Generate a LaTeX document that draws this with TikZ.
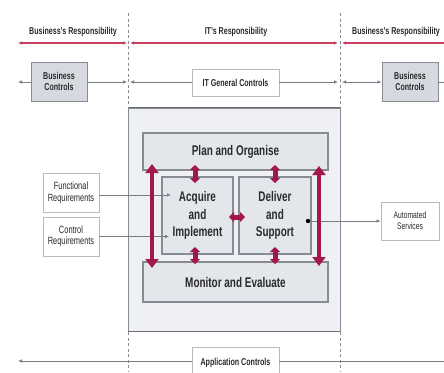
\documentclass[tikz,border=0pt]{standalone}
\usepackage{fontspec}
\setmainfont{Liberation Sans}[FakeStretch=0.71]
\usetikzlibrary{arrows.meta}
\definecolor{crim}{HTML}{A3174C}
\definecolor{redline}{HTML}{C8405E}
\definecolor{bcfill}{HTML}{D6DAE0}
\definecolor{bigfill}{HTML}{EEF0F3}
\definecolor{innerfill}{HTML}{E3E6EB}
\definecolor{txt}{HTML}{2A2A2A}
\definecolor{edge}{HTML}{878C94}
\tikzset{
  base/.style={draw=edge, text=txt, align=center, inner sep=1pt},
  bcbox/.style={base, fill=bcfill, line width=0.9pt, minimum width=56pt, minimum height=39pt, font=\fontsize{10}{11}\selectfont\bfseries},
  wbox/.style={base, fill=white, draw=edge!60, line width=0.8pt, font=\fontsize{10.5}{11.5}\selectfont},
  resp/.style={text=txt, font=\fontsize{10}{11}\selectfont\bfseries},
  bigbox/.style={fill=bigfill, draw=edge, line width=0.8pt, minimum width=212pt, minimum height=223pt, inner sep=0pt},
  inner/.style={base, fill=innerfill, line width=1.3pt, font=\fontsize{14}{17.5}\selectfont\bfseries},
  conn/.style={draw=edge!90!black, line width=0.7pt},
  tip/.style={-{Latex[length=4pt,width=3.5pt]}},
  redl/.style={draw=redline, line width=1.2pt},
  dashv/.style={draw=edge, line width=0.6pt, dash pattern=on 3pt off 2.5pt},
  bigred/.style={draw=crim, line width=4.5pt, {Triangle[width=13pt,length=9pt]}-{Triangle[width=13pt,length=9pt]}},
  smallred/.style={draw=crim, line width=5pt, {Triangle[width=10pt,length=5pt]}-{Triangle[width=10pt,length=5pt]}},
}
\begin{document}
\begin{tikzpicture}[x=1pt,y=-1pt]
\clip (0,0) rectangle (444,372);
\fill[white] (0,0) rectangle (444,372);

% big box
\node[bigbox] (big) at (234,219.5) {};
\draw[draw=edge!80!black, line width=1.4pt] (big.north west) -- (big.north east);
\draw[draw=edge!80!black, line width=1.4pt] (big.south west) -- (big.south east);

% dashed boundaries
\coordinate (dA1) at (128,13); \coordinate (dA2) at (128,372);
\coordinate (dB1) at (340,13); \coordinate (dB2) at (340,372);
\draw[dashv] (dA1) -- (dA2);
\draw[dashv] (dB1) -- (dB2);

% responsibility labels
\node[resp] (r1) at (73,32) {Business's Responsibility};
\node[resp] (r2) at (236,32) {IT's Responsibility};
\node[resp] (r3) at (396,32) {Business's Responsibility};

% red line
\coordinate (rl0) at (18,43); \coordinate (rl1) at (127,43);
\coordinate (rl2) at (130,43); \coordinate (rl3) at (338,43);
\coordinate (rl4) at (342,43); \coordinate (rl5) at (444,43);
\draw[redl, {Latex[length=4pt,width=3.5pt]}-{Latex[length=4pt,width=3.5pt]}] (rl0) -- (rl1);
\draw[redl, {Latex[length=4pt,width=3.5pt]}-{Latex[length=4pt,width=3.5pt]}] (rl2) -- (rl3);
\draw[redl, {Latex[length=4pt,width=3.5pt]}-] (rl4) -- (rl5);

% row of controls
\node[bcbox] (bcL) at (59,81.5) {Business\\Controls};
\node[wbox, minimum width=87pt, minimum height=27pt, font=\fontsize{10}{11}\selectfont\bfseries] (itgc) at (235.5,82.5) {IT General Controls};
\node[bcbox] (bcR) at (410,81.5) {Business\\Controls};
\coordinate (c0) at (18,82); \coordinate (c1) at (127,82);
\coordinate (c2) at (130,82); \coordinate (c3) at (338,82);
\coordinate (c4) at (342,82); \coordinate (c5) at (444,82);
\draw[conn, tip] (bcL.west |- c0) -- (c0);
\draw[conn, tip] (bcL.east |- c1) -- (c1);
\draw[conn, tip] (itgc.west |- c2) -- (c2);
\draw[conn, tip] (itgc.east |- c3) -- (c3);
\draw[conn, {Latex[length=4pt,width=3.5pt]}-{Latex[length=4pt,width=3.5pt]}] (c4) -- (bcR.west |- c4);
\draw[conn] (bcR.east |- c5) -- (c5);

% inner boxes
\node[inner, minimum width=185pt, minimum height=37pt] (plan) at (235.5,151.5) {Plan and Organise};
\node[inner, minimum width=185pt, minimum height=40pt] (mon) at (235.5,282) {Monitor and Evaluate};
\node[inner, minimum width=71pt, minimum height=77pt] (acq) at (197.5,215.5) {Acquire\\and\\Implement};
\node[inner, minimum width=72pt, minimum height=77pt] (del) at (275,215.5) {Deliver\\and\\Support};

% requirement boxes
\node[wbox, minimum width=56pt, minimum height=39pt] (func) at (71,193) {Functional\\Requirements};
\node[wbox, minimum width=56pt, minimum height=39pt] (ctrl) at (71,236.5) {Control\\Requirements};
\node[wbox, minimum width=58pt, minimum height=38pt, font=\fontsize{9.5}{11}\selectfont] (auto) at (410,221) {Automated\\Services};
\coordinate (fa) at (171,195);
\coordinate (ca) at (169,236.5);
\draw[conn, tip] (func.east |- fa) -- (fa);
\draw[conn, tip] (ctrl.east) -- (ca);
\coordinate (dot) at (308,221);
\draw[conn, tip] (dot) -- (auto.west);
\fill[black] (dot) circle (2.2pt);

% red arrows
\coordinate (lv1) at (152,164); \coordinate (lv2) at (152,268);
\coordinate (rv1) at (319,166); \coordinate (rv2) at (319,266);
\draw[bigred] (lv1) -- (lv2);
\draw[bigred] (rv1) -- (rv2);
\coordinate (s1a) at (195,165); \coordinate (s1b) at (195,183);
\coordinate (s2a) at (195,247); \coordinate (s2b) at (195,264);
\coordinate (s3a) at (275,165); \coordinate (s3b) at (275,183);
\coordinate (s4a) at (275,247); \coordinate (s4b) at (275,264);
\draw[smallred] (s1a) -- (s1b);
\draw[smallred] (s2a) -- (s2b);
\draw[smallred] (s3a) -- (s3b);
\draw[smallred] (s4a) -- (s4b);
\coordinate (h1) at (229,217); \coordinate (h2) at (245,217);
\draw[smallred] (h1) -- (h2);

% application controls
\node[wbox, minimum width=87pt, minimum height=31pt, anchor=north, font=\fontsize{10}{11}\selectfont\bfseries] (appc) at (235.5,347) {Application Controls};
\coordinate (b0) at (18,361); \coordinate (b1) at (444,361);
\draw[conn, tip] (appc.west |- b0) -- (b0);
\draw[conn] (appc.east |- b1) -- (b1);
\end{tikzpicture}
\end{document}
